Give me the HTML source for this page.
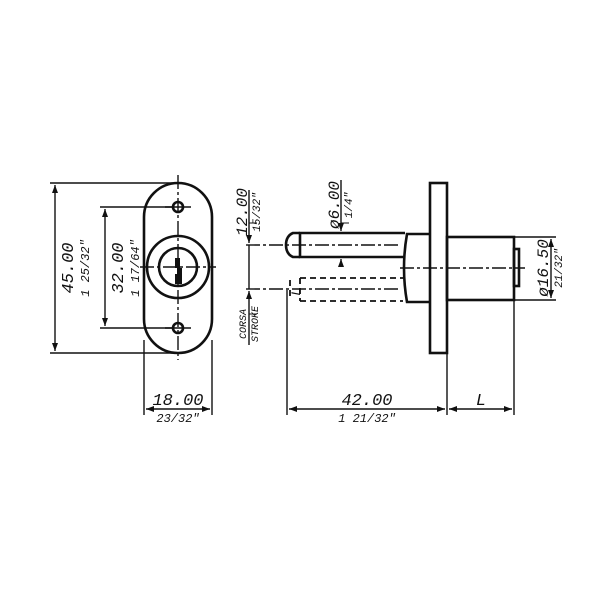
<!DOCTYPE html>
<html><head><style>html,body{margin:0;padding:0;background:#fff}svg{display:block}</style></head><body>
<svg width="600" height="600" viewBox="0 0 600 600" xmlns="http://www.w3.org/2000/svg" font-family="Liberation Mono, monospace" font-style="italic" fill="none" stroke="#111">
<defs><marker id="a" markerWidth="8" markerHeight="6" refX="8" refY="3" orient="auto-start-reverse" markerUnits="userSpaceOnUse"><path d="M0,0 L8,3 L0,6z" fill="#111" stroke="none"/></marker></defs>
<!-- LEFT VIEW -->
<g stroke-width="2.6">
<path d="M144,217 A34,34 0 0 1 212,217 L212,319 A34,34 0 0 1 144,319 Z"/>
<circle cx="178" cy="267" r="31"/>
<circle cx="178" cy="267" r="19"/>
<circle cx="178" cy="207" r="5"/>
<circle cx="178" cy="328" r="5"/>
</g>
<path d="M175,258 h5 v10 h2 v16 h-7 v-10 h2 v-6 h-2z" fill="#111" stroke="none"/>
<g stroke-width="1.4">
<path d="M178,175 V360" stroke-dasharray="14,3,3,3"/>
<path d="M140,267 H216" stroke-dasharray="14,3,3,3"/>
<path d="M165,207 H191 M165,328 H191"/>
<path d="M50,183 H178 M50,353 H178"/>
<path d="M100,207 H172 M100,328 H172"/>
<path d="M55,185 V351" marker-start="url(#a)" marker-end="url(#a)"/>
<path d="M105,209 V326" marker-start="url(#a)" marker-end="url(#a)"/>
<path d="M144,340 V415 M212,340 V415"/>
<path d="M146,409 H210" marker-start="url(#a)" marker-end="url(#a)"/>
</g>
<g fill="#111" stroke="none">
<text x="0" y="0" font-size="17" text-anchor="middle" transform="translate(73,268) rotate(-90)">45.00</text>
<text x="0" y="0" font-size="12" text-anchor="middle" transform="translate(89,268) rotate(-90)">1 25/32"</text>
<text x="0" y="0" font-size="17" text-anchor="middle" transform="translate(123,268) rotate(-90)">32.00</text>
<text x="0" y="0" font-size="12" text-anchor="middle" transform="translate(139,268) rotate(-90)">1 17/64"</text>
<text x="178" y="405" font-size="17" text-anchor="middle">18.00</text>
<text x="178" y="422" font-size="12" text-anchor="middle">23/32"</text>
</g>
<!-- RIGHT VIEW -->
<g stroke-width="2.6">
<rect x="430" y="183" width="17" height="170"/>
<rect x="447" y="237" width="67" height="63"/>
<rect x="514" y="249" width="5" height="37"/>
<path d="M430,234 H407 Q401,268 407,302 H430"/>
<path d="M405,257 H300 L300,233 H405"/>
<path d="M300,233 H293 Q286,236 286,245 Q286,254 293,257 H300"/>
</g>
<g stroke-width="1.8" stroke-dasharray="6,4">
<path d="M300,278 H403 M300,301 H403 M300,278 V301"/>
<path d="M290,280 V298"/>
</g>
<g stroke-width="1.4">
<path d="M246,245 H400" stroke-dasharray="14,3,3,3"/>
<path d="M246,289 H400" stroke-dasharray="14,3,3,3"/>
<path d="M400,268 H525" stroke-dasharray="14,3,3,3"/>
<path d="M249,190 V243" marker-end="url(#a)"/>
<path d="M249,345 V291" marker-end="url(#a)"/>
<path d="M249,245 V289"/>
<path d="M341,180 V231" marker-end="url(#a)"/>
<path d="M341,266 V259" marker-end="url(#a)"/>
<path d="M287,290 V415 M447,353 V415 M514,300 V415"/>
<path d="M289,409 H445" marker-start="url(#a)" marker-end="url(#a)"/>
<path d="M449,409 H512" marker-start="url(#a)" marker-end="url(#a)"/>
<path d="M514,237 H556 M514,300 H556"/>
<path d="M551,239 V298" marker-start="url(#a)" marker-end="url(#a)"/>
</g>
<g fill="#111" stroke="none">
<text x="0" y="0" font-size="16" text-anchor="middle" transform="translate(247,212) rotate(-90)">12.00</text>
<text x="0" y="0" font-size="11" text-anchor="middle" transform="translate(260,212) rotate(-90)">15/32"</text>
<text x="0" y="0" font-size="16" text-anchor="middle" transform="translate(339,205) rotate(-90)">ø6.00</text>
<text x="0" y="0" font-size="11" text-anchor="middle" transform="translate(352,205) rotate(-90)">1/4"</text>
<text x="0" y="0" font-size="10" text-anchor="middle" transform="translate(246,324) rotate(-90)">CORSA</text>
<text x="0" y="0" font-size="10" text-anchor="middle" transform="translate(258,324) rotate(-90)">STROKE</text>
<text x="0" y="0" font-size="13" text-anchor="middle" transform="translate(300,292) rotate(-90)">L</text>
<text x="0" y="0" font-size="16" text-anchor="middle" transform="translate(548,268) rotate(-90)">ø16.50</text>
<text x="0" y="0" font-size="11" text-anchor="middle" transform="translate(562,268) rotate(-90)">21/32"</text>
<text x="367" y="405" font-size="17" text-anchor="middle">42.00</text>
<text x="367" y="422" font-size="12" text-anchor="middle">1 21/32"</text>
<text x="481" y="405" font-size="17" text-anchor="middle">L</text>
</g>
<path d="M249,223 H257" stroke="#111" stroke-width="1"/>
<path d="M341,223 H349" stroke="#111" stroke-width="1"/>
<path d="M249,314 H257" stroke="#111" stroke-width="1"/>
</svg>
</body></html>
